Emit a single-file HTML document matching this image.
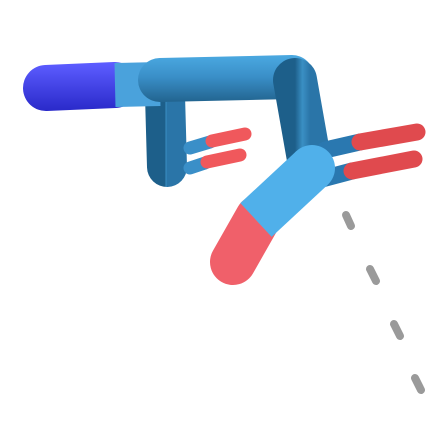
<!DOCTYPE html>
<html><head><meta charset="utf-8"><style>html,body{margin:0;padding:0;background:#fff}svg{display:block}</style></head>
<body>
<svg width="447" height="447" viewBox="0 0 447 447">
<defs>
<linearGradient id="gv" x1="0" x2="1" y1="0" y2="0"><stop offset="0" stop-color="#1d5f8a"/><stop offset="0.5" stop-color="#3a8fc4"/><stop offset="1" stop-color="#2a75a8"/></linearGradient>
<linearGradient id="gh" gradientUnits="userSpaceOnUse" x1="0" x2="0" y1="56" y2="102"><stop offset="0" stop-color="#4aa8e0"/><stop offset="0.45" stop-color="#3a8fc8"/><stop offset="1" stop-color="#22648f"/></linearGradient>
<linearGradient id="gn" gradientUnits="userSpaceOnUse" x1="0" x2="0" y1="64" y2="112"><stop offset="0" stop-color="#5c5cff"/><stop offset="1" stop-color="#2828c8"/></linearGradient>
</defs>
<g stroke-linecap="round" fill="none">
<line x1="165" y1="95" x2="167" y2="167" stroke="url(#gv)" stroke-width="40"/>
<line x1="46" y1="88" x2="115" y2="85" stroke="url(#gn)" stroke-width="46"/>
<line x1="115" y1="85" x2="160" y2="84" stroke="#4aa2dc" stroke-width="44" stroke-linecap="butt"/>
<line x1="160" y1="80" x2="292" y2="77" stroke="url(#gh)" stroke-width="44"/>
<line x1="295" y1="80" x2="310" y2="165" stroke="url(#gv)" stroke-width="44"/>
<line x1="190" y1="148" x2="210" y2="142" stroke="#3a8fc8" stroke-width="13"/>
<line x1="212" y1="141" x2="245" y2="134" stroke="#f0585c" stroke-width="13"/>
<line x1="190" y1="168" x2="205" y2="163" stroke="#3a8fc8" stroke-width="13"/>
<line x1="207" y1="162" x2="240" y2="155" stroke="#f0585c" stroke-width="13"/>
<line x1="325" y1="150" x2="360" y2="142" stroke="#2a78b0" stroke-width="17"/>
<line x1="360" y1="142" x2="417" y2="132" stroke="#e04a4e" stroke-width="17"/>
<line x1="318" y1="180" x2="352" y2="171" stroke="#2a78b0" stroke-width="17"/>
<line x1="352" y1="171" x2="414" y2="159" stroke="#e04a4e" stroke-width="17"/>
<line x1="258" y1="218" x2="233" y2="262" stroke="#f0606a" stroke-width="46"/>
<line x1="312" y1="168" x2="256" y2="220" stroke="#50b0ea" stroke-width="46" stroke-linecap="butt"/>
<circle cx="312" cy="168" r="23" fill="#50b0ea"/>
<g stroke="#9a9a9a" stroke-width="8">
<line x1="346" y1="215" x2="351" y2="226"/><line x1="370" y1="269" x2="376" y2="281"/><line x1="394" y1="324" x2="400" y2="336"/><line x1="415" y1="378" x2="421" y2="390"/>
</g>
</g>
</svg>
</body></html>
